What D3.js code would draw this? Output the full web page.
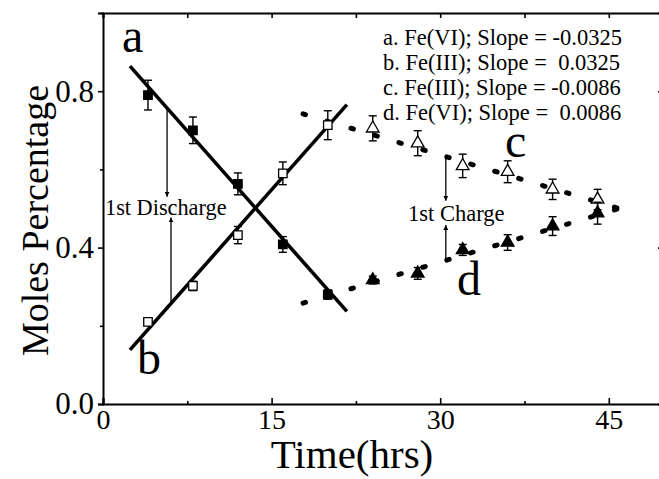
<!DOCTYPE html>
<html>
<head>
<meta charset="utf-8">
<script src="https://cdn.jsdelivr.net/npm/d3@7"></script>
<style>
  html, body { margin: 0; padding: 0; background: #fff; }
  svg { display: block; }
  text { font-family: "Liberation Serif", "Times New Roman", serif; fill: #000; }
</style>
</head>
<body>
<svg id="chart" width="659" height="479"></svg>
<script>
// Discharge stage (hours) and measured mole fractions
const dischargeTime = [4, 8, 12, 16, 20];
const feVIDischarge = [0.79, 0.70, 0.563, 0.408, 0.28];
const feVIDischargeErr = [0.038, 0.034, 0.028, 0.02, 0.012];
const feIIIDischarge = [0.21, 0.302, 0.432, 0.59, 0.713];
const feIIIDischargeErr = [0.008, 0.012, 0.022, 0.029, 0.037];

// Charge stage
const chargeTime = [24, 28, 32, 36, 40, 44];
const feIIICharge = [0.705, 0.667, 0.609, 0.594, 0.549, 0.523];
const feIIIChargeErr = [0.032, 0.032, 0.03, 0.028, 0.026, 0.026];
const feVICharge = [0.317, 0.334, 0.394, 0.413, 0.455, 0.488];
const feVIChargeErr = [0.01, 0.015, 0.014, 0.02, 0.024, 0.028];

// Linear fits: [intercept, slope, tStart, tEnd]
const fitA = [0.942, -0.0325, 2.4, 21.7];
const fitB = [0.0605, 0.0325, 2.4, 21.7];
const fitC = [0.895, -0.0086, 17.8, 46.0];
const fitD = [0.105, 0.0086, 17.8, 46.0];

const legendLines = [
  "a. Fe(VI); Slope = -0.0325",
  "b. Fe(III); Slope =  0.0325",
  "c. Fe(III); Slope = -0.0086",
  "d. Fe(VI); Slope =  0.0086"
];
const xTicks = [0, 15, 30, 45];
const xMinorTicks = [7.5, 22.5, 37.5];
const yTicks = [0.0, 0.4, 0.8];
const yMinorTicks = [0.2, 0.6, 1.0];

const svg = d3.select("#chart");
const x = d3.scaleLinear().domain([0, 50]).range([103, 665]);
const y = d3.scaleLinear().domain([0, 1]).range([404, 13]);

svg.append("rect").attr("width", 659).attr("height", 479).attr("fill", "#fff");

// Axes
function styleAxis(g) {
  g.select(".domain").attr("stroke", "#000").attr("stroke-width", 2);
  g.selectAll(".tick line").attr("stroke", "#000").attr("stroke-width", 1.6);
  g.selectAll(".tick text").style("font-family", "'Liberation Serif', serif").attr("fill", "#000");
}

const xAxis = svg.append("g").attr("transform", `translate(0,${y(0)})`)
  .call(d3.axisBottom(x).tickValues(xTicks).tickSize(-6).tickPadding(5).tickFormat(d3.format("d")));
styleAxis(xAxis);
xAxis.selectAll(".tick text").style("font-size", "28px").attr("dy", "0.71em");

svg.append("g").attr("transform", `translate(0,${y(0)})`)
  .call(d3.axisBottom(x).tickValues(xMinorTicks).tickSize(-3).tickFormat(""))
  .call(styleAxis).select(".domain").remove();

const xTop = svg.append("g").attr("transform", `translate(0,${y(1)})`)
  .call(d3.axisTop(x).tickValues(xTicks.concat(xMinorTicks)).tickSize(-5).tickFormat(""));
styleAxis(xTop);

const yAxis = svg.append("g").attr("transform", `translate(${x(0)},0)`)
  .call(d3.axisLeft(y).tickValues(yTicks).tickSize(5).tickPadding(4).tickFormat(d3.format(".1f")));
styleAxis(yAxis);
yAxis.selectAll(".tick text").style("font-size", "31px");

svg.append("g").attr("transform", `translate(${x(0)},0)`)
  .call(d3.axisLeft(y).tickValues(yMinorTicks).tickSize(3).tickFormat(""))
  .call(styleAxis).select(".domain").remove();

const yRight = svg.append("g").attr("transform", `translate(${x(50)},0)`)
  .call(d3.axisRight(y).tickValues(yTicks).tickSize(-7).tickFormat(""));
styleAxis(yRight);

// Axis titles
svg.append("text")
  .attr("transform", `translate(48,${(y(0) + y(1)) / 2 + 12}) rotate(-90)`)
  .attr("text-anchor", "middle")
  .style("font-size", "38px")
  .text("Moles Percentage");

svg.append("text")
  .attr("x", (x(0) + x(50)) / 2 - 32)
  .attr("y", 468)
  .attr("text-anchor", "middle")
  .style("font-size", "41px")
  .text("Time(hrs)");

// Fit lines
function fitLine(f) {
  return [[f[2], f[0] + f[1] * f[2]], [f[3], f[0] + f[1] * f[3]]];
}
const line = d3.line().x(d => x(d[0])).y(d => y(d[1]));

[fitA, fitB].forEach(f => {
  svg.append("path").attr("d", line(fitLine(f)))
    .attr("stroke", "#000").attr("stroke-width", 3.6).attr("fill", "none");
});
[fitC, fitD].forEach(f => {
  svg.append("path").attr("d", line(fitLine(f)))
    .attr("stroke", "#000").attr("stroke-width", 5).attr("fill", "none")
    .attr("stroke-linecap", "round").attr("stroke-dasharray", "2.5 22.5");
});

// Error bars and markers
function series(times, vals, errs, symbolType, size, filled) {
  const g = svg.append("g");
  times.forEach((t, i) => {
    const cx = x(t), top = y(vals[i] + errs[i]), bot = y(vals[i] - errs[i]);
    g.append("line").attr("x1", cx).attr("x2", cx).attr("y1", top).attr("y2", bot)
      .attr("stroke", "#000").attr("stroke-width", 1.4);
    [top, bot].forEach(yy => {
      g.append("line").attr("x1", cx - 4).attr("x2", cx + 4).attr("y1", yy).attr("y2", yy)
        .attr("stroke", "#000").attr("stroke-width", 1.4);
    });
    g.append("path")
      .attr("d", d3.symbol().type(symbolType).size(size)())
      .attr("transform", `translate(${cx},${y(vals[i])})`)
      .attr("fill", filled ? "#000" : "#fff")
      .attr("stroke", "#000").attr("stroke-width", 1.3);
  });
}
series(dischargeTime, feVIDischarge, feVIDischargeErr, d3.symbolSquare, 72, true);
series(dischargeTime, feIIIDischarge, feIIIDischargeErr, d3.symbolSquare, 72, false);
series(chargeTime, feIIICharge, feIIIChargeErr, d3.symbolTriangle, 70, false);
series(chargeTime, feVICharge, feVIChargeErr, d3.symbolTriangle, 70, true);

// Annotation arrows (time, from value, to value)
const arrows = [
  [5.7, fitA[0] + fitA[1] * 5.7, 0.53],
  [6.05, fitB[0] + fitB[1] * 6.05, 0.477],
  [30.5, fitC[0] + fitC[1] * 30.5, 0.52],
  [30.5, fitD[0] + fitD[1] * 30.5, 0.458]
];
const defs = svg.append("defs");
defs.append("marker").attr("id", "head").attr("viewBox", "0 0 10 10")
  .attr("refX", 10).attr("refY", 5).attr("markerWidth", 5).attr("markerHeight", 7)
  .attr("markerUnits", "userSpaceOnUse").attr("orient", "auto")
  .append("path").attr("d", "M0,0 L10,5 L0,10 Z").attr("fill", "#000");
arrows.forEach(a => {
  svg.append("line").attr("x1", x(a[0])).attr("x2", x(a[0]))
    .attr("y1", y(a[1])).attr("y2", y(a[2]))
    .attr("stroke", "#000").attr("stroke-width", 1.3)
    .attr("marker-end", "url(#head)");
});

svg.append("text").attr("x", 105).attr("y", 215).style("font-size", "22.3px").text("1st Discharge");
svg.append("text").attr("x", 408).attr("y", 221).style("font-size", "22.5px").text("1st Charge");

// Curve labels
const curveLabels = [["a", 122, 52], ["b", 137, 374], ["c", 505, 157], ["d", 457, 295]];
curveLabels.forEach(l => {
  svg.append("text").attr("x", l[1]).attr("y", l[2]).style("font-size", "48px").text(l[0]);
});

// Legend
legendLines.forEach((s, i) => {
  svg.append("text").attr("x", 383).attr("y", 45 + i * 25)
    .style("font-size", "22.5px").style("white-space", "pre")
    .attr("xml:space", "preserve").text(s);
});
</script>
</body>
</html>
